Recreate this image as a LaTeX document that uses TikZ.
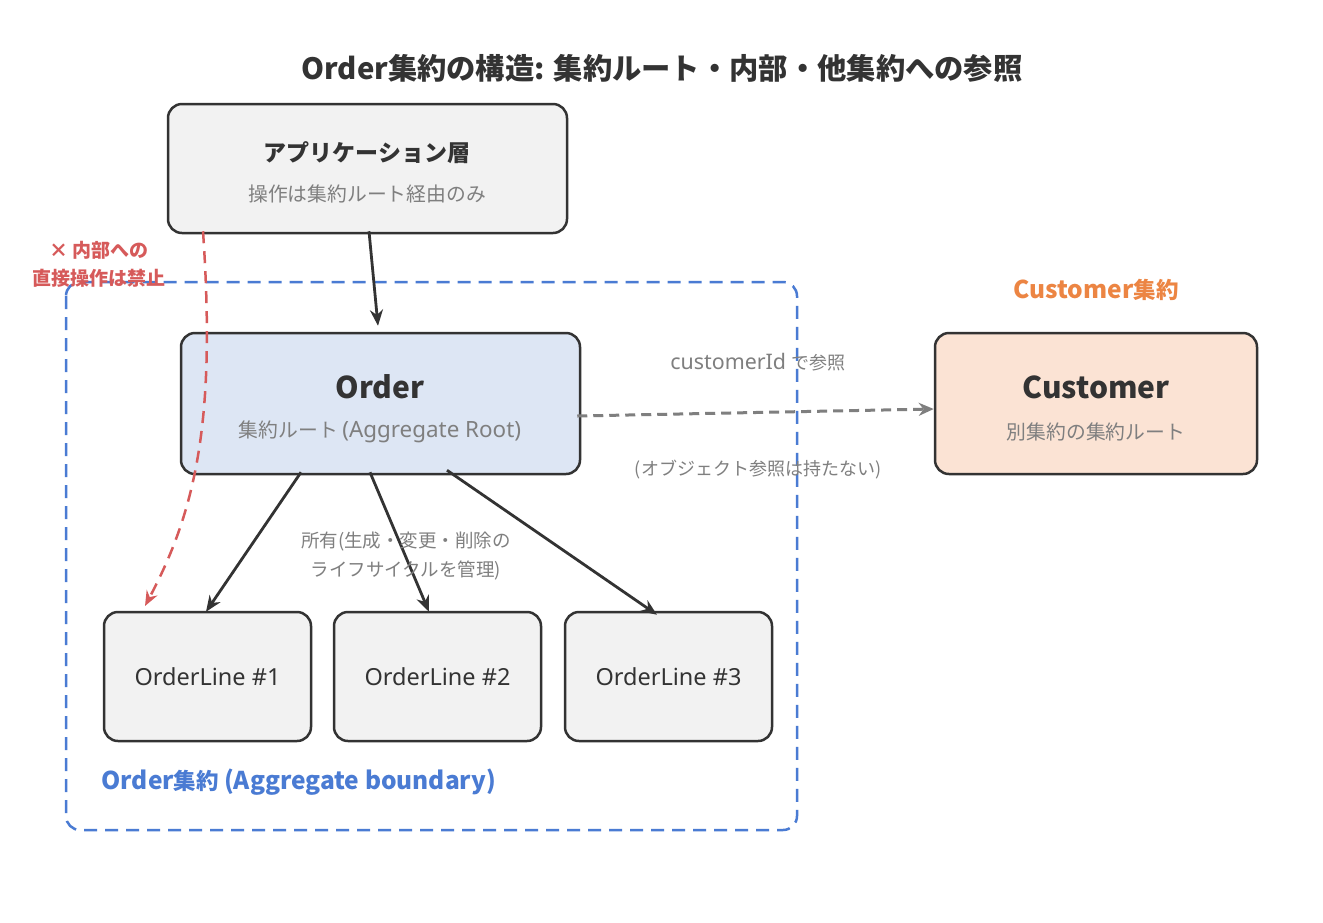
\documentclass[tikz,border=0pt]{standalone}
\usepackage{fontspec}
\setmainfont{Noto Sans CJK JP}
\newfontfamily\lat{Noto Sans}
\usetikzlibrary{arrows.meta,calc}
\definecolor{ink}{HTML}{333333}
\definecolor{txtgray}{HTML}{7F7F7F}
\definecolor{bblue}{HTML}{4A7BD3}
\definecolor{rred}{HTML}{D65A5A}
\definecolor{oorange}{HTML}{EC8543}
\definecolor{boxgray}{HTML}{F2F2F2}
\definecolor{boxblue}{HTML}{DDE6F4}
\definecolor{boxorange}{HTML}{FBE3D4}
\newcommand\bigLatin[1]{{\fontsize{24.5}{26}\selectfont #1}}
\tikzset{
  card/.style={draw=ink, line width=2.5pt, rounded corners=14pt, inner sep=0pt},
  title/.style={text=ink, font=\bfseries\fontsize{29.3}{34}\selectfont},
  head/.style={text=ink, font=\bfseries\fontsize{30}{34}\selectfont},
  headsm/.style={text=ink, font=\bfseries\fontsize{23}{27}\selectfont},
  sub/.style={text=txtgray, font=\fontsize{19.8}{23}\selectfont},
  linelbl/.style={text=ink, font=\lat\fontsize{23.5}{27}\selectfont},
  note/.style={text=txtgray, font=\fontsize{18.5}{29}\selectfont, align=center},
  solidarrow/.style={draw=ink, line width=2.8pt, -{Stealth[length=16pt,width=13pt]}},
  refarrow/.style={draw=txtgray, line width=3pt, dash pattern=on 10pt off 6pt, -{Stealth[length=15pt,width=13pt]}},
  forbid/.style={draw=rred, line width=2.5pt, dash pattern=on 12pt off 8pt, -{Stealth[length=15pt,width=12pt]}},
}
\begin{document}
\begin{tikzpicture}[x=1pt,y=-1pt]
\useasboundingbox[fill=white] (0,0) rectangle (1323,922);
% title
\node[title] (ttl) at (662,68) {Order集約の構造: 集約ルート・内部・他集約への参照};
% aggregate boundary
\draw[bblue, line width=2.5pt, dash pattern=on 13pt off 8pt, rounded corners=14pt] (66,282) rectangle (797,830);
\node[text=bblue, font=\bfseries\fontsize{22.5}{26}\selectfont, anchor=west] (blbl) at (98,782) {\bigLatin{Order}集約 \bigLatin{(Aggregate boundary)}};
% application layer
\node[card, fill=boxgray, minimum width=399pt, minimum height=129pt] (app) at (367.5,168.5) {};
\node[headsm] (appt) at (367,153) {アプリケーション層};
\node[sub] (apps) at (367,194) {操作は集約ルート経由のみ};
% order
\node[card, fill=boxblue, minimum width=399pt, minimum height=141pt] (order) at (380.5,403.5) {};
\node[head] (ordt) at (380,387) {Order};
\node[sub] (ords) at (380,432) {集約ルート {\lat\fontsize{22.4}{23}\selectfont (Aggregate Root)}};
% customer
\node[text=oorange, font=\bfseries\fontsize{22.5}{26}\selectfont] (custagg) at (1096,290) {\bigLatin{Customer}集約};
\node[card, fill=boxorange, minimum width=322pt, minimum height=141pt] (cust) at (1096,403.5) {};
\node[head] (custt) at (1096,387) {Customer};
\node[sub] (custs) at (1096,432) {別集約の集約ルート};
% order lines
\node[card, fill=boxgray, minimum width=207pt, minimum height=129pt] (ol1) at (207.5,676.5) {};
\node[card, fill=boxgray, minimum width=207pt, minimum height=129pt] (ol2) at (437.5,676.5) {};
\node[card, fill=boxgray, minimum width=207pt, minimum height=129pt] (ol3) at (668.5,676.5) {};
\node[linelbl] (ol1t) at (207.5,677) {OrderLine \#1};
\node[linelbl] (ol2t) at (437.5,677) {OrderLine \#2};
\node[linelbl] (ol3t) at (668.5,677) {OrderLine \#3};
% arrows
\draw[solidarrow] ([xshift=1.5pt,yshift=3pt]app.south) -- ([xshift=-2.5pt,yshift=6pt]order.north);
\draw[solidarrow] ([xshift=-79.5pt,yshift=3pt]order.south) -- ([xshift=-1.5pt,yshift=-1pt]ol1.north);
\draw[solidarrow] ([xshift=-10.5pt,yshift=3pt]order.south) -- ([xshift=-8.5pt,yshift=-1pt]ol2.north);
\draw[solidarrow] ([xshift=66.5pt,yshift=5pt]order.south) -- ([xshift=-11.5pt,yshift=-4pt]ol3.north);
\node[note] (own) at (406,556) {所有(生成・変更・削除の\\ライフサイクルを管理)};
% reference arrow
\draw[refarrow] ([xshift=-4pt,yshift=-12.5pt]order.east) -- ([yshift=-5.5pt]cust.west);
\node[text=txtgray, font=\fontsize{18}{21}\selectfont] (refl1) at (758,362) {{\lat\fontsize{21.4}{22}\selectfont customerId\ }で参照};
\node[text=txtgray, font=\fontsize{18}{21}\selectfont] (refl2) at (758,470) {(オブジェクト参照は持たない)};
% forbidden path
\coordinate (fend) at (145,606);
\draw[forbid] ([xshift=-164.5pt,yshift=3pt]app.south) .. controls (216,420) and (196,510) .. (fend);
\node[text=rred, font=\bfseries\fontsize{19}{28}\selectfont, align=center] (forbidl) at (99,264) {× 内部への\\直接操作は禁止};
\end{tikzpicture}
\end{document}
